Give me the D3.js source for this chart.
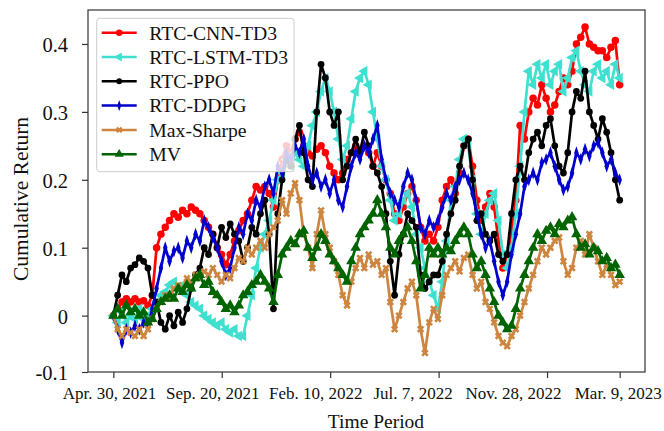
<!DOCTYPE html>
<html><head><meta charset="utf-8">
<script src="https://cdn.jsdelivr.net/npm/d3@7"></script>
<style>body{margin:0;background:#fff}text{font-family:"Liberation Serif","Times New Roman",serif;fill:#111}</style>
</head><body><svg id="c" width="664" height="431"></svg>
<script>
// ---------- data ----------
const seriesNames = ["RTC-CNN-TD3","RTC-LSTM-TD3","RTC-PPO","RTC-DDPG","Max-Sharpe","MV"];
const totalDays = 467; // last trading-day index
const xTickValues = [0,100,200,300,400,467];
const xTickLabels = ["Apr. 30, 2021","Sep. 20, 2021","Feb. 10, 2022","Jul. 7, 2022","Nov. 28, 2022","Mar. 9, 2023"];
const yTickValues = [-0.083,0,0.1,0.2,0.3,0.4];
const yTickLabels = ["-0.1","0","0.1","0.2","0.3","0.4"];

const cnnTd3 = [0,0.01,0.02,0.025,0.02,0.025,0.02,0.022,0.015,0.03,
0.1,0.12,0.13,0.14,0.15,0.145,0.155,0.15,0.16,0.155,
0.15,0.14,0.13,0.12,0.1,0.09,0.075,0.09,0.11,0.125,
0.14,0.15,0.17,0.19,0.185,0.19,0.18,0.16,0.2,0.23,
0.25,0.24,0.26,0.27,0.25,0.24,0.235,0.245,0.25,0.24,
0.22,0.21,0.2,0.21,0.23,0.24,0.25,0.245,0.25,0.24,
0.22,0.24,0.22,0.2,0.18,0.15,0.14,0.16,0.18,0.19,
0.17,0.13,0.11,0.12,0.11,0.13,0.17,0.19,0.2,0.18,
0.21,0.25,0.26,0.22,0.17,0.14,0.16,0.18,0.16,0.11,
0.07,0.09,0.12,0.17,0.28,0.26,0.3,0.32,0.31,0.34,
0.32,0.3,0.31,0.33,0.35,0.34,0.36,0.4,0.41,0.425,
0.4,0.395,0.39,0.39,0.38,0.395,0.405,0.34];
const lstmTd3 = [0,-0.01,0.005,-0.01,0,-0.005,0.01,-0.005,0,0.01,
0.02,0.03,0.035,0.045,0.05,0.04,0.045,0.03,0.02,0.015,
0.01,0,-0.005,-0.01,-0.015,-0.01,-0.02,-0.025,-0.02,-0.03,
-0.03,0,0.03,0.07,0.1,0.12,0.14,0.17,0.2,0.21,
0.23,0.22,0.24,0.23,0.22,0.25,0.28,0.3,0.33,0.35,
0.33,0.3,0.26,0.23,0.25,0.29,0.33,0.35,0.36,0.34,
0.3,0.26,0.22,0.2,0.17,0.14,0.15,0.17,0.18,0.16,
0.12,0.1,0.07,0.05,0.03,0.01,0.05,0.11,0.17,0.19,
0.23,0.26,0.25,0.2,0.15,0.12,0.15,0.17,0.18,0.14,
0.09,0.07,0.1,0.15,0.22,0.3,0.36,0.34,0.37,0.35,
0.37,0.34,0.36,0.37,0.33,0.35,0.38,0.39,0.36,0.34,
0.33,0.36,0.37,0.35,0.36,0.34,0.37,0.35];
const ppo = [0,0.03,0.06,0.05,0.07,0.075,0.085,0.08,0.07,0.03,
0.02,-0.01,-0.02,0,-0.015,0.005,-0.01,0.01,0.04,0.06,
0.07,0.1,0.09,0.12,0.1,0.13,0.115,0.135,0.12,0.11,
0.08,0.1,0.13,0.12,0.15,0.17,0.12,0.01,0.15,0.2,
0.23,0.22,0.26,0.28,0.24,0.2,0.19,0.3,0.37,0.35,
0.3,0.28,0.3,0.2,0.22,0.24,0.26,0.24,0.27,0.25,
0.22,0.21,0.19,0.15,0.08,0.03,0.09,0.12,0.15,0.14,
0.13,0.06,0.04,0.05,0.06,0.06,0.08,0.12,0.15,0.17,
0.22,0.25,0.26,0.2,0.14,0.15,0.12,0.11,0.12,0.09,
0.08,0.09,0.15,0.2,0.22,0.2,0.24,0.26,0.27,0.25,
0.28,0.29,0.25,0.22,0.21,0.24,0.3,0.33,0.32,0.36,
0.3,0.28,0.26,0.29,0.27,0.24,0.2,0.17];
const ddpg = [0,-0.02,-0.04,-0.02,-0.025,-0.015,-0.02,-0.01,-0.015,0.01,
0.04,0.07,0.1,0.08,0.095,0.1,0.085,0.11,0.1,0.12,
0.11,0.14,0.13,0.115,0.1,0.08,0.06,0.07,0.1,0.13,
0.12,0.15,0.14,0.17,0.16,0.19,0.2,0.18,0.22,0.21,
0.24,0.23,0.25,0.24,0.26,0.22,0.2,0.21,0.19,0.2,
0.18,0.2,0.17,0.16,0.19,0.22,0.24,0.23,0.25,0.24,
0.26,0.28,0.23,0.2,0.18,0.17,0.16,0.19,0.21,0.2,
0.17,0.13,0.12,0.14,0.13,0.14,0.16,0.18,0.17,0.19,
0.2,0.21,0.2,0.18,0.15,0.12,0.1,0.11,0.08,0.05,
0.03,0.05,0.09,0.12,0.15,0.19,0.2,0.21,0.2,0.225,
0.23,0.24,0.22,0.2,0.185,0.19,0.21,0.24,0.23,0.245,
0.235,0.25,0.255,0.24,0.22,0.23,0.21,0.2];
const maxSharpe = [0,-0.02,-0.03,-0.02,-0.025,-0.03,-0.02,-0.03,-0.02,-0.005,
0.01,0.02,0.03,0.025,0.04,0.045,0.04,0.055,0.05,0.06,
0.055,0.065,0.06,0.07,0.06,0.05,0.06,0.055,0.07,0.085,
0.08,0.1,0.09,0.1,0.11,0.1,0.12,0.13,0.14,0.17,
0.15,0.18,0.195,0.17,0.12,0.1,0.07,0.12,0.155,0.12,
0.1,0.08,0.06,0.03,0.015,0.05,0.07,0.085,0.07,0.09,
0.075,0.08,0.06,0.07,0.02,-0.02,0,0.02,0.04,0.05,
0.03,-0.02,-0.055,-0.01,0.01,-0.005,0.03,0.06,0.07,0.08,
0.065,0.085,0.09,0.06,0.04,0.05,0.02,0.01,-0.01,-0.03,
-0.04,-0.045,-0.03,-0.02,0,0.02,0.04,0.06,0.08,0.1,
0.09,0.1,0.11,0.115,0.08,0.06,0.07,0.1,0.11,0.09,
0.12,0.1,0.08,0.06,0.075,0.06,0.045,0.05];
const mv = [0,0.01,0,0.015,0.005,0.01,0,0.005,-0.01,-0.005,
0.01,0.02,0.025,0.03,0.025,0.04,0.035,0.045,0.04,0.055,
0.06,0.045,0.05,0.035,0.03,0.02,0.01,0.015,0.005,0.015,
0.03,0.035,0.045,0.05,0.06,0.05,0.04,0.02,0.06,0.09,
0.1,0.11,0.105,0.12,0.125,0.1,0.085,0.1,0.12,0.11,
0.09,0.08,0.07,0.06,0.05,0.08,0.1,0.12,0.13,0.14,
0.15,0.17,0.15,0.13,0.1,0.09,0.11,0.12,0.13,0.11,
0.08,0.04,0.06,0.1,0.09,0.1,0.09,0.1,0.095,0.11,
0.12,0.13,0.12,0.09,0.07,0.08,0.06,0.04,0.02,0,
-0.01,-0.02,-0.015,0.01,0.04,0.06,0.08,0.1,0.12,0.11,
0.125,0.13,0.12,0.135,0.13,0.14,0.145,0.12,0.1,0.105,
0.09,0.1,0.095,0.08,0.085,0.07,0.075,0.06];

// ---------- layout ----------
const L=88,R=645,T=10,B=372;
const svg=d3.select("#c");
const x=d3.scaleLinear().domain([-0.05*totalDays,1.05*totalDays]).range([L,R]);
const y=d3.scaleLinear().domain([-0.083,0.45]).range([B,T]);

const styles=[
 {c:"#ff0000",sym:d3.symbolCircle,size:44,rot:0,sx:1},
 {c:"#40e0d0",sym:d3.symbolTriangle,size:48,rot:-90,sx:1},
 {c:"#000000",sym:d3.symbolCircle,size:36,rot:0,sx:1},
 {c:"#0000cd",sym:d3.symbolDiamond,size:48,rot:0,sx:0.6},
 {c:"#cd853f",sym:d3.symbolCross,size:34,rot:45,sx:1},
 {c:"#006400",sym:d3.symbolTriangle,size:48,rot:0,sx:1}
];
const allSeries=[cnnTd3,lstmTd3,ppo,ddpg,maxSharpe,mv];

const g=svg.append("g");
allSeries.forEach((vals,k)=>{
  const st=styles[k];
  const n=vals.length;
  const pts=vals.map((v,i)=>({d:i*totalDays/(n-1),v}));
  g.append("path").datum(pts)
    .attr("fill","none").attr("stroke",st.c).attr("stroke-width",2.7)
    .attr("stroke-linejoin","round")
    .attr("d",d3.line().x(p=>x(p.d)).y(p=>y(p.v)));
  g.append("g").selectAll("path").data(pts).join("path")
    .attr("d",d3.symbol().type(st.sym).size(st.size))
    .attr("transform",p=>`translate(${x(p.d)},${y(p.v)}) rotate(${st.rot}) scale(${st.sx},1)`)
    .attr("fill",st.c);
});

// frame
svg.append("rect").attr("x",L).attr("y",T).attr("width",R-L).attr("height",B-T)
  .attr("fill","none").attr("stroke","#333").attr("stroke-width",1.2);

// x axis
const xLabelShift=[-4.3,-9.5,-15,-26,-34,-2];
const xa=svg.append("g").attr("transform",`translate(0,${B})`)
  .call(d3.axisBottom(x).tickValues(xTickValues).tickSize(6).tickFormat((d,i)=>xTickLabels[i]));
xa.select(".domain").remove();
xa.selectAll("line").attr("stroke","#333").attr("stroke-width",1.2);
xa.selectAll("text").attr("y",26.5).attr("dy",0).attr("x",(d,i)=>xLabelShift[i])
  .style("font-size","17px").attr("fill","#111");

// y axis
const ya=svg.append("g").attr("transform",`translate(${L},0)`)
  .call(d3.axisLeft(y).tickValues(yTickValues).tickSize(6).tickPadding(14).tickFormat((d,i)=>yTickLabels[i]));
ya.select(".domain").remove();
ya.selectAll("line").attr("stroke","#333").attr("stroke-width",1.2);
ya.selectAll("text").style("font-size","20.5px").attr("dy","0.38em").attr("fill","#111");

// axis titles
svg.append("text").attr("x",376).attr("y",428).attr("text-anchor","middle")
  .style("font-size","19.5px").text("Time Period");
svg.append("text").attr("transform","translate(27.5,199) rotate(-90)").attr("text-anchor","middle")
  .style("font-size","21.5px").text("Cumulative Return");

// legend
const lg=svg.append("g");
lg.append("rect").attr("x",96.7).attr("y",18.3).attr("width",197.3).attr("height",153.4)
  .attr("rx",3).attr("fill","#fff").attr("fill-opacity",0.8).attr("stroke","#ccc").attr("stroke-width",1);
seriesNames.forEach((name,k)=>{
  const st=styles[k];const yy=32.7+k*24.3;
  lg.append("line").attr("x1",101.7).attr("x2",136.7).attr("y1",yy).attr("y2",yy)
    .attr("stroke",st.c).attr("stroke-width",2.5);
  lg.append("path").attr("d",d3.symbol().type(st.sym).size(st.size*0.75))
    .attr("transform",`translate(119.2,${yy}) rotate(${st.rot}) scale(${st.sx},1)`).attr("fill",st.c);
  lg.append("text").attr("x",149.3).attr("y",yy).attr("dy","0.35em").style("font-size","19.7px").text(name);
});
</script></body></html>
